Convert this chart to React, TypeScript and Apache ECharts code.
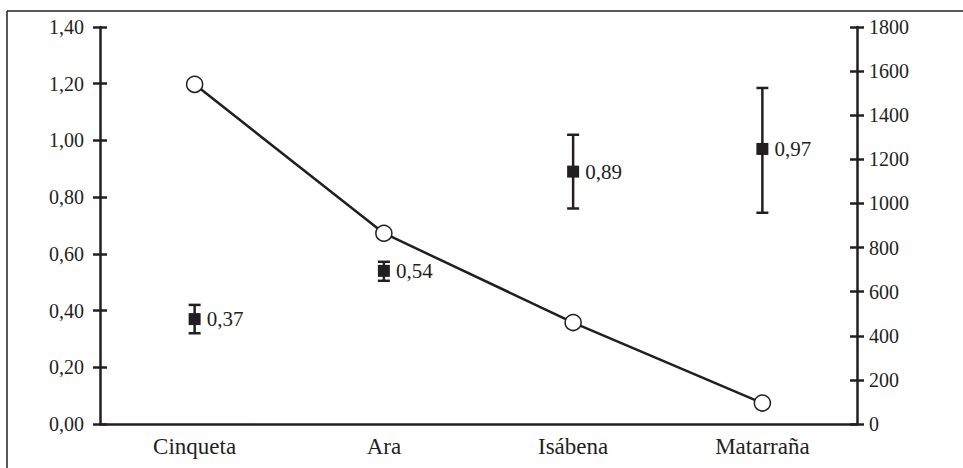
import React, { useEffect, useRef } from "react";
import * as echarts from "echarts";

const categories = ["Cinqueta", "Ara", "Isábena", "Matarraña"];
const meanValues = [0.37, 0.54, 0.89, 0.97];
const errLow = [0.32, 0.505, 0.76, 0.745];
const errHigh = [0.42, 0.572, 1.02, 1.185];
const lineValues = [1540, 865, 460, 95];
const leftTicks = [0, 1.4, 0.2];
const rightTicks = [0, 1800, 200];

const INK = "#231f20";
const FONT = "'Liberation Serif', 'Times New Roman', serif";

export default function App() {
  const ref = useRef<HTMLDivElement>(null);
  useEffect(() => {
    if (!ref.current) return;
    const chart = echarts.init(ref.current, undefined, { renderer: "svg" });
    const fmtComma = (v: number) => v.toFixed(2).replace(".", ",");
    const gridPos = { left: 100, right: 106, top: 27, bottom: 44 };
    const leftAxisBase = {
      type: "value",
      min: leftTicks[0],
      max: leftTicks[1],
      interval: leftTicks[2],
      position: "left",
      splitLine: { show: false },
    };
    const rightAxisBase = {
      type: "value",
      min: rightTicks[0],
      max: rightTicks[1],
      interval: rightTicks[2],
      position: "right",
      splitLine: { show: false },
    };
    chart.setOption({
      animation: false,
      backgroundColor: "#fff",
      textStyle: { fontFamily: FONT },
      grid: gridPos,
      graphic: [
        { type: "line", shape: { x1: 7, y1: 11, x2: 963, y2: 11 }, style: { stroke: INK, lineWidth: 1.5 } },
        { type: "line", shape: { x1: 7, y1: 11, x2: 7, y2: 468 }, style: { stroke: INK, lineWidth: 1.5 } },
      ],
      xAxis: {
        type: "category",
        data: categories,
        boundaryGap: true,
        axisLine: { show: true, lineStyle: { color: INK, width: 2.5 } },
        axisTick: { show: false },
        axisLabel: { color: INK, fontFamily: FONT, fontSize: 23, margin: 11 },
      },
      yAxis: [
        {
          ...leftAxisBase,
          axisLine: { show: true, lineStyle: { color: INK, width: 2.5 } },
          axisTick: { show: true, length: 7, lineStyle: { color: INK, width: 2.5 } },
          axisLabel: { color: INK, fontFamily: FONT, fontSize: 20, margin: 16, formatter: (v: number) => fmtComma(v) },
        },
        {
          ...rightAxisBase,
          axisLine: { show: true, lineStyle: { color: INK, width: 2.5 } },
          axisTick: { show: true, length: 7, lineStyle: { color: INK, width: 2.5 } },
          axisLabel: { color: INK, fontFamily: FONT, fontSize: 20, margin: 12, formatter: (v: number) => String(v) },
        },
        {
          ...leftAxisBase,
          axisLine: { show: false },
          axisTick: { show: true, inside: true, length: 7, lineStyle: { color: INK, width: 2.5 } },
          axisLabel: { show: false },
        },
        {
          ...rightAxisBase,
          axisLine: { show: false },
          axisTick: { show: true, inside: true, length: 7, lineStyle: { color: INK, width: 2.5 } },
          axisLabel: { show: false },
        },
      ],
      series: [
        {
          type: "line",
          yAxisIndex: 1,
          data: lineValues,
          symbol: "circle",
          symbolSize: 16,
          lineStyle: { color: INK, width: 2.5 },
          itemStyle: { color: "#fff", borderColor: INK, borderWidth: 1.5 },
          z: 3,
        },
        {
          type: "custom",
          yAxisIndex: 0,
          data: categories.map((_, i) => [i, errLow[i], errHigh[i]]),
          renderItem: (params: any, api: any) => {
            const x = api.coord([api.value(0), api.value(1)])[0];
            const yLow = api.coord([api.value(0), api.value(1)])[1];
            const yHigh = api.coord([api.value(0), api.value(2)])[1];
            const half = 6;
            const style = { stroke: INK, lineWidth: 2.5 };
            return {
              type: "group",
              children: [
                { type: "line", shape: { x1: x, y1: yLow, x2: x, y2: yHigh }, style },
                { type: "line", shape: { x1: x - half, y1: yLow, x2: x + half, y2: yLow }, style },
                { type: "line", shape: { x1: x - half, y1: yHigh, x2: x + half, y2: yHigh }, style },
              ],
            };
          },
          z: 4,
        },
        {
          type: "scatter",
          yAxisIndex: 0,
          data: meanValues,
          symbol: "rect",
          symbolSize: 12,
          itemStyle: { color: INK, opacity: 1 },
          label: {
            show: true,
            position: "right",
            distance: 6,
            color: INK,
            fontFamily: FONT,
            fontSize: 21,
            formatter: (p: any) => fmtComma(p.value),
          },
          z: 5,
        },
      ],
    });
    return () => chart.dispose();
  }, []);
  return (
    <div
      ref={ref}
      style={{ position: "fixed", left: 0, top: 0, width: 963, height: 468 }}
    />
  );
}
